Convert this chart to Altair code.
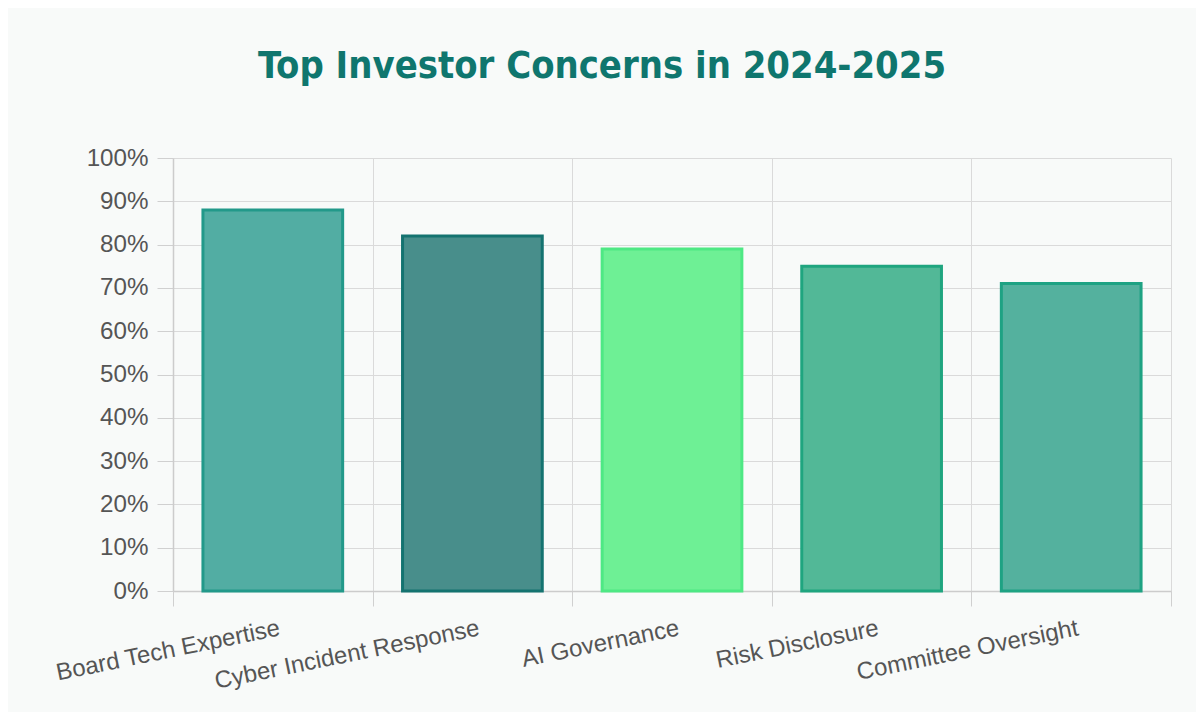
import altair as alt
import pandas as pd

categories = ["Board Tech Expertise", "Cyber Incident Response", "AI Governance",
              "Risk Disclosure", "Committee Oversight"]
values = [88, 82, 79, 75, 71]
fill_colors = ["#52ada3", "#488e8b", "#6ef095", "#52b897", "#54b19e"]
stroke_colors = ["#22998a", "#147370", "#4ee884", "#1fa57f", "#1ea283"]
y_ticks = list(range(0, 101, 10))

df = pd.DataFrame({"concern": categories, "value": values})

chart = alt.Chart(df).mark_bar(
    width=alt.RelativeBandSize(0.7), strokeWidth=3, opacity=1
).encode(
    x=alt.X("concern:N", sort=categories,
            scale=alt.Scale(paddingInner=0, paddingOuter=0),
            axis=alt.Axis(title=None, labelAngle=-11.5, labelAlign="right",
                          labelBaseline="top", tickBand="extent", grid=True,
                          gridColor="#dadada", tickColor="#d0d0d0", tickSize=15,
                          domainColor="#cccccc", domainWidth=1.5,
                          labelFont="Liberation Sans", labelFontSize=24,
                          labelColor="#555555", labelPadding=10, labelLimit=0,
                          labelOffset=4)),
    y=alt.Y("value:Q", scale=alt.Scale(domain=[0, 100]),
            axis=alt.Axis(title=None, values=y_ticks, labelExpr="datum.value + '%'",
                          gridColor="#dadada", tickColor="#d0d0d0", tickSize=16,
                          domainColor="#cccccc", domainWidth=1.5,
                          labelFont="Liberation Sans", labelFontSize=24.2,
                          labelColor="#555555", labelPadding=9)),
    fill=alt.Fill("concern:N", scale=alt.Scale(domain=categories, range=fill_colors), legend=None),
    stroke=alt.Stroke("concern:N", scale=alt.Scale(domain=categories, range=stroke_colors), legend=None),
).properties(
    width=998, height=433,
    autosize=alt.AutoSizeParams(type="none"),
    padding={"left": 165, "top": 150, "right": 25, "bottom": 121},
    title=alt.Title("Top Investor Concerns in 2024-2025", font="DejaVu Sans Condensed",
                    fontSize=37.8, fontWeight="bold", color="#0f766e",
                    anchor="middle", dx=-70, offset=60),
).configure(background="#f8faf9").configure_view(stroke=None)

chart.save("out.html", embed_options={"renderer": "svg", "actions": False})
